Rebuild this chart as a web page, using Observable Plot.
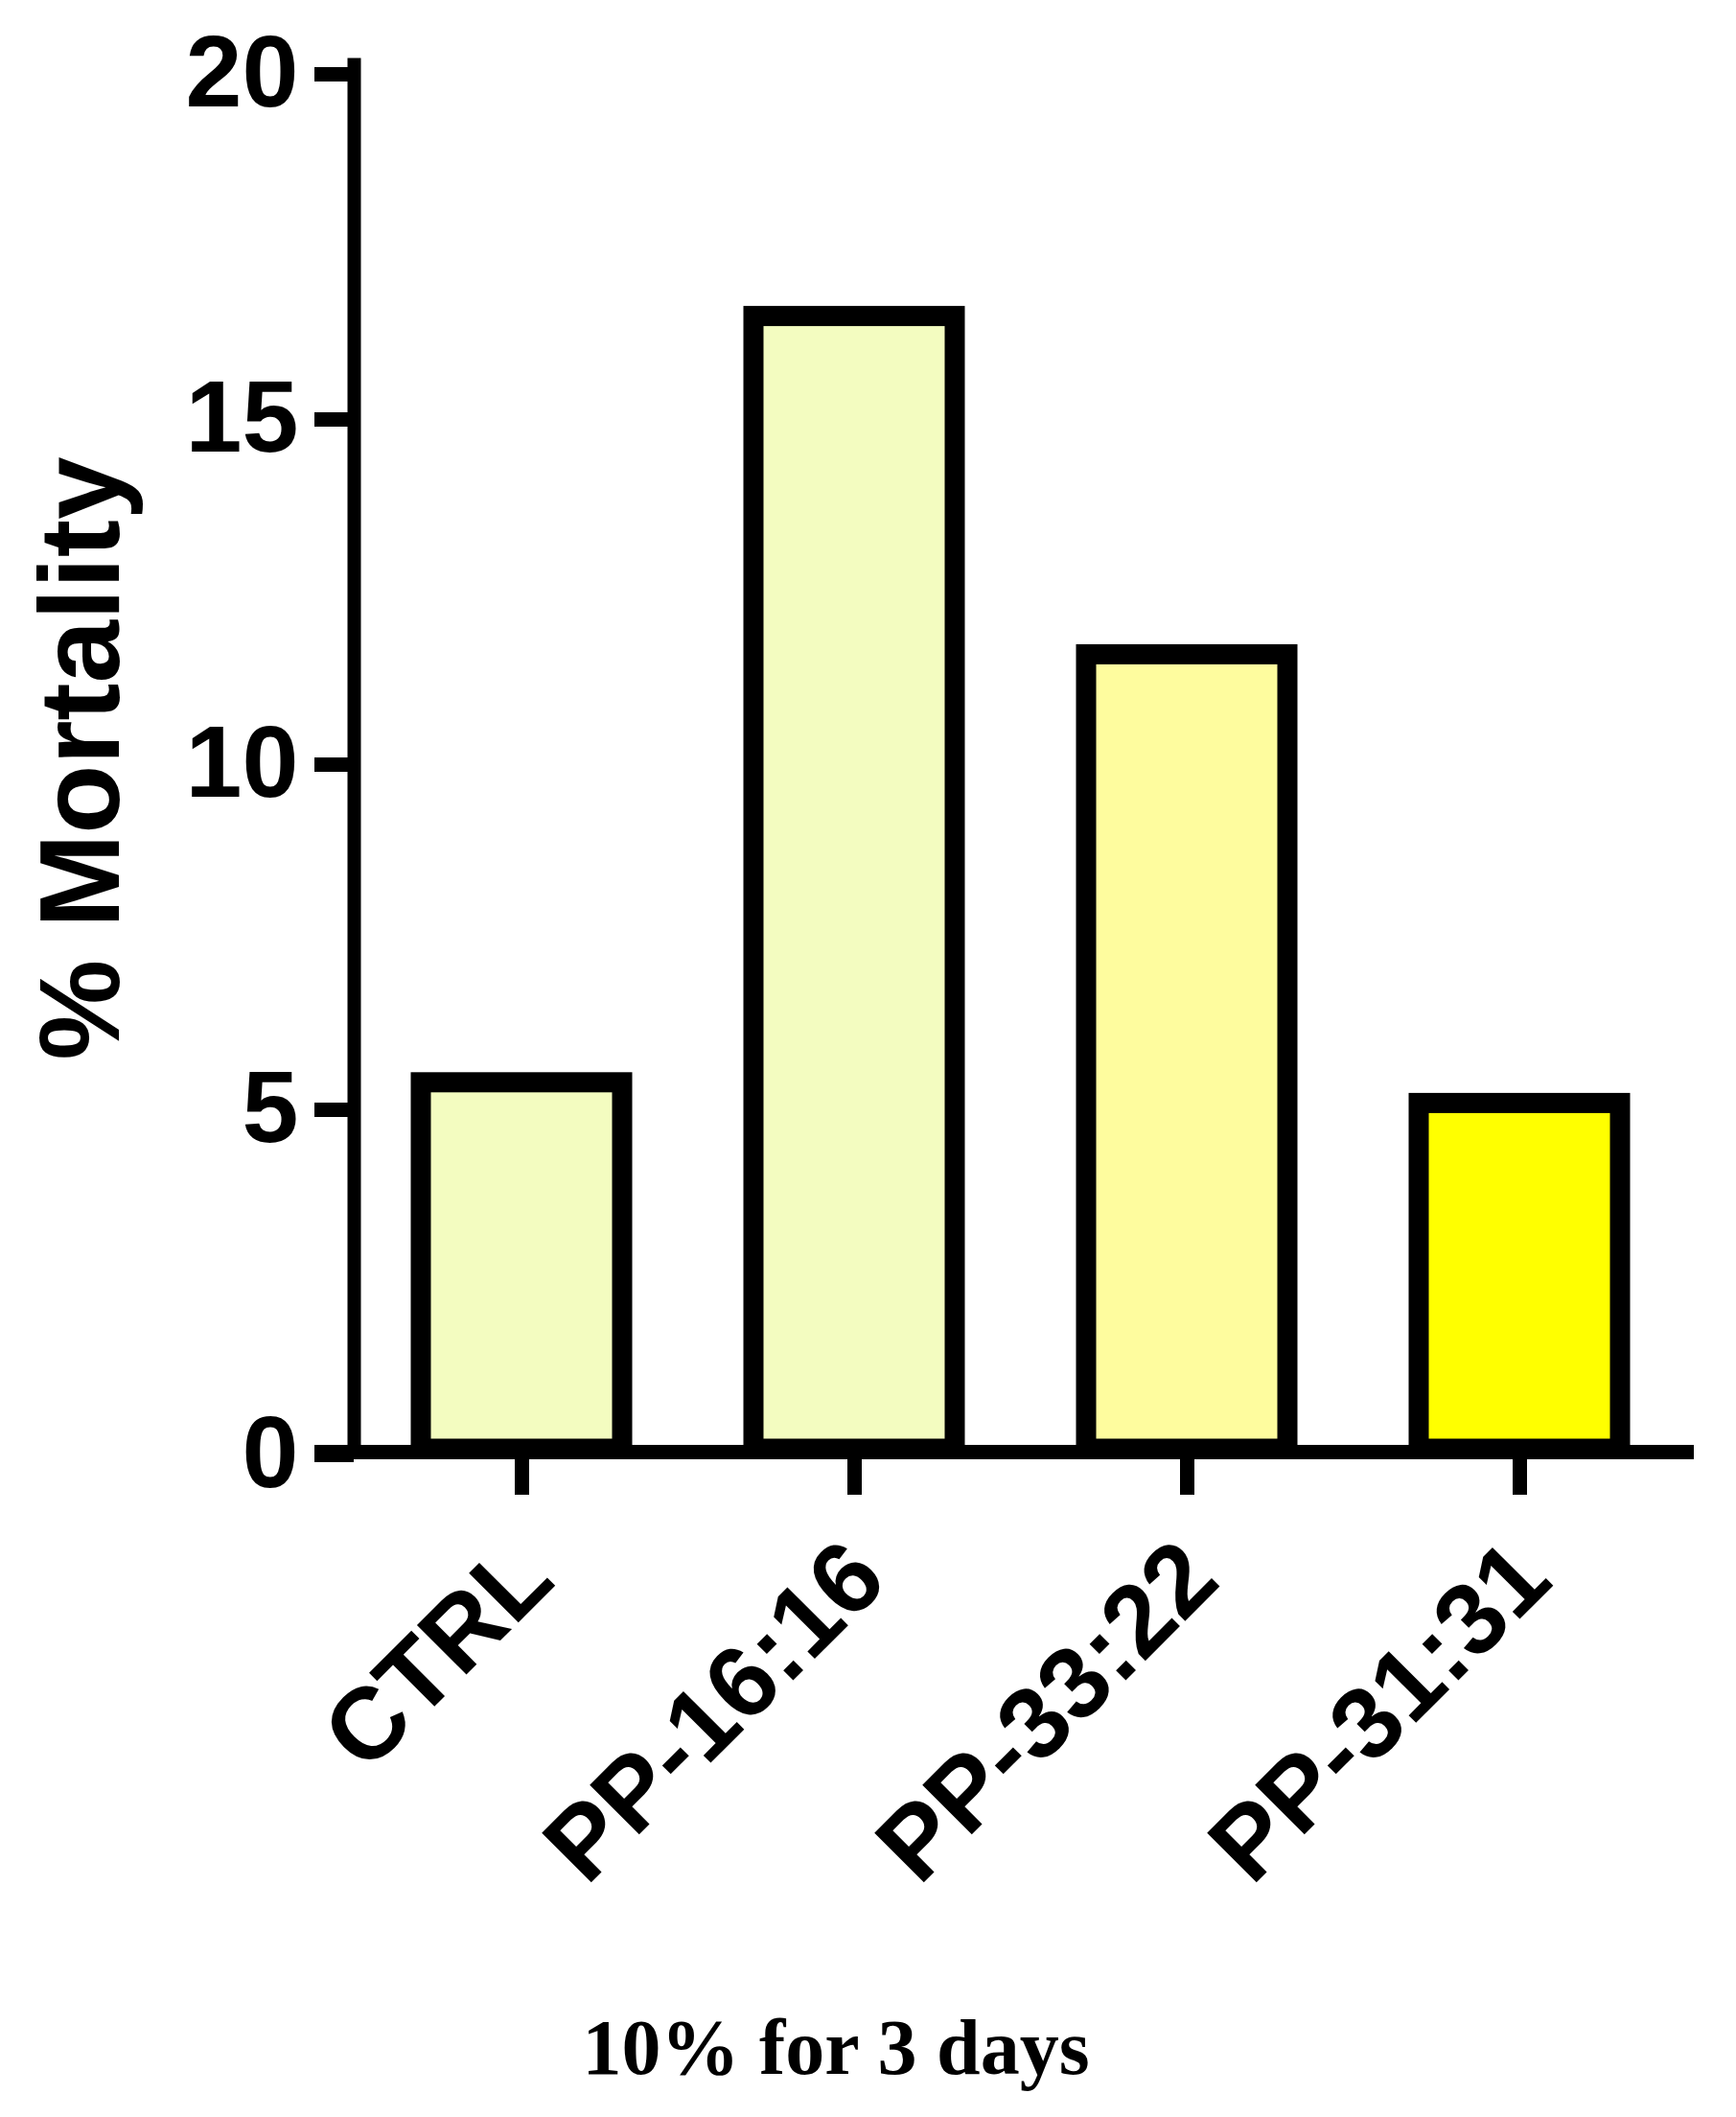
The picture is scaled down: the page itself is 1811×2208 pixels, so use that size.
<!DOCTYPE html>
<html>
<head>
<meta charset="utf-8">
<script src="https://cdn.jsdelivr.net/npm/d3@7"></script>
<script src="https://cdn.jsdelivr.net/npm/@observablehq/plot@0.6"></script>
<style>
  html, body { margin: 0; padding: 0; background: #fff; }
  #chart svg { display: block; }
  #caption {
    width: 1744px;
    text-align: center;
    font-family: "Liberation Serif", "Times New Roman", serif;
    font-weight: bold;
    font-size: 82px;
    line-height: 100px;
    color: #000;
  }
</style>
</head>
<body>
<div id="chart"></div>
<div id="caption">10% for 3 days</div>
<script>
const categories = ["CTRL", "PP-16:16", "PP-33:22", "PP-31:31"];
const mortality = [5.35, 16.45, 11.55, 5.05];
const barColors = ["#F3FCC0", "#F3FCC0", "#FEFC9E", "#FFFF00"];
const yTicks = [0, 5, 10, 15, 20];
const yLabel = "% Mortality";

const data = categories.map((c, i) => ({category: c, value: mortality[i], color: barColors[i]}));

const chart = Plot.plot({
  width: 1811,
  height: 2086,
  marginLeft: 369,
  marginRight: 44,
  marginTop: 67,
  marginBottom: 572,
  style: {fontFamily: "'Liberation Sans', Arial, sans-serif", fontWeight: "bold", fontSize: "106px", color: "#000", background: "#fff"},
  x: {domain: categories, range: [368.5, 1759.5], paddingInner: 0.395, paddingOuter: 0.2, label: null},
  y: {domain: [0, 20], range: [1514, 74], label: null},
  color: {type: "identity"},
  marks: [
    Plot.barY(data, {x: "category", y: "value", fill: "color", stroke: "#000", strokeWidth: 21, insetBottom: 3}),
    Plot.ruleY([0], {stroke: "#000", strokeWidth: 15, insetLeft: -41}),
    Plot.frame({anchor: "left", stroke: "#000", strokeWidth: 14}),
    Plot.axisY({ticks: yTicks, tickSize: 41, tickPadding: 17, strokeWidth: 15, label: null, dy: 3}),
    Plot.axisX({tickSize: 45, strokeWidth: 15, tickFormat: () => "", label: null}),
    Plot.axisX({tickSize: 0, tickPadding: 137, tickRotate: -45, textAnchor: "end", lineAnchor: "bottom", dx: 37, label: null}),
    Plot.text([yLabel], {frameAnchor: "left", rotate: -90, dx: -329, lineAnchor: "top", textAnchor: "middle", fontSize: 118, fontWeight: "bold", text: d => d})
  ]
});
document.getElementById("chart").appendChild(chart);
</script>
</body>
</html>
